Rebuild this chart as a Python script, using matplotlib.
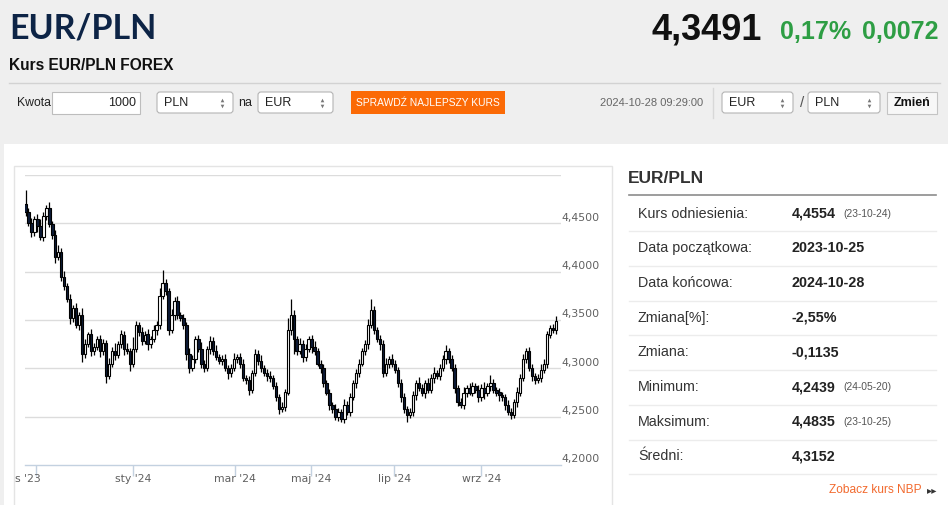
import numpy as np
import matplotlib
matplotlib.use("Agg")
import matplotlib.pyplot as plt
from matplotlib.patches import Rectangle, FancyBboxPatch
from matplotlib.transforms import Bbox

SANS = ['Liberation Sans', 'DejaVu Sans']
plt.rcParams['font.family'] = SANS

# ---- data ----
first_open = 4.470
closes = [
    4.462, 4.450, 4.441, 4.455, 4.447, 4.436, 4.458, 4.466, 4.449, 4.438,
    4.415, 4.420, 4.395, 4.385, 4.372, 4.352, 4.362, 4.345, 4.355, 4.315,
    4.325, 4.335, 4.318, 4.322, 4.330, 4.318, 4.326, 4.292, 4.305, 4.318,
    4.314, 4.325, 4.335, 4.320, 4.318, 4.305, 4.320, 4.345, 4.338, 4.328,
    4.335, 4.325, 4.330, 4.340, 4.345, 4.375, 4.388, 4.380, 4.340, 4.355,
    4.370, 4.355, 4.352, 4.345, 4.315, 4.300, 4.310, 4.330, 4.320, 4.305,
    4.300, 4.320, 4.328, 4.318, 4.312, 4.308, 4.310, 4.300, 4.295, 4.300,
    4.310, 4.312, 4.305, 4.290, 4.288, 4.278, 4.295, 4.315, 4.308, 4.300,
    4.295, 4.292, 4.290, 4.282, 4.270, 4.258, 4.260, 4.275, 4.340, 4.355,
    4.330, 4.318, 4.325, 4.312, 4.320, 4.330, 4.322, 4.318, 4.305, 4.300,
    4.285, 4.275, 4.262, 4.258, 4.250, 4.255, 4.248, 4.262, 4.255, 4.270,
    4.285, 4.295, 4.305, 4.318, 4.325, 4.345, 4.360, 4.340, 4.330, 4.325,
    4.295, 4.305, 4.310, 4.305, 4.298, 4.285, 4.270, 4.258, 4.252, 4.255,
    4.272, 4.285, 4.280, 4.275, 4.285, 4.278, 4.290, 4.295, 4.292, 4.300,
    4.310, 4.318, 4.310, 4.300, 4.280, 4.265, 4.262, 4.275, 4.280, 4.275,
    4.282, 4.278, 4.270, 4.280, 4.275, 4.282, 4.285, 4.278, 4.275, 4.272,
    4.270, 4.262, 4.255, 4.252, 4.265, 4.275, 4.290, 4.310, 4.318, 4.300,
    4.292, 4.288, 4.290, 4.298, 4.305, 4.335, 4.342, 4.340, 4.349,
]
# wick lengths above / below the body, in thousandths
wick_up = [
    14, 4, 6, 3, 5, 8, 4, 3, 6, 3, 5, 8, 4, 6, 3, 5, 4, 6, 3, 7,
    5, 3, 6, 4, 3, 5, 4, 3, 6, 4, 8, 3, 5, 4, 6, 3, 12, 4, 3, 5,
    4, 6, 3, 5, 4, 8, 14, 4, 3, 6, 4, 5, 3, 4, 3, 6, 4, 3, 5, 7,
    4, 3, 5, 4, 6, 3, 4, 5, 3, 4, 6, 3, 4, 5, 3, 4, 3, 5, 4, 6,
    3, 4, 5, 3, 4, 3, 5, 4, 12, 17, 5, 3, 6, 4, 5, 3, 4, 6, 3, 4,
    5, 3, 4, 3, 5, 4, 3, 6, 4, 5, 3, 4, 5, 3, 4, 6, 12, 4, 3, 5,
    4, 6, 3, 5, 4, 3, 4, 5, 3, 4, 5, 3, 6, 4, 3, 5, 4, 6, 3, 5,
    4, 6, 3, 4, 5, 3, 4, 6, 3, 5, 4, 3, 5, 4, 6, 3, 8, 4, 3, 5,
    4, 3, 5, 4, 3, 6, 4, 5, 3, 4, 5, 3, 4, 6, 5, 4, 3, 4, 5,
]
wick_dn = [
    4, 3, 5, 4, 6, 3, 4, 5, 3, 4, 6, 3, 5, 4, 3, 6, 4, 3, 5, 8,
    4, 3, 5, 4, 3, 6, 4, 7, 3, 4, 5, 3, 4, 6, 3, 8, 4, 3, 5, 4,
    3, 6, 4, 3, 5, 4, 3, 4, 6, 3, 5, 4, 3, 4, 6, 5, 3, 4, 3, 5,
    4, 3, 5, 4, 3, 4, 5, 3, 6, 4, 3, 4, 5, 3, 4, 6, 4, 3, 5, 4,
    3, 5, 4, 3, 4, 5, 3, 4, 3, 6, 15, 4, 3, 5, 4, 3, 6, 4, 3, 5,
    4, 3, 5, 4, 3, 4, 4, 5, 3, 4, 3, 5, 4, 3, 4, 5, 3, 4, 3, 6,
    4, 3, 5, 4, 3, 4, 5, 4, 7, 3, 4, 5, 3, 4, 6, 3, 4, 5, 3, 4,
    3, 5, 4, 3, 5, 4, 3, 4, 5, 3, 4, 3, 5, 4, 7, 4, 5, 3, 4, 6,
    4, 5, 3, 4, 3, 5, 4, 3, 4, 3, 5, 4, 3, 4, 3, 5, 4, 3, 4,
]
month_labels = ["lis '23", "sty '24", "mar '24", "maj '24", "lip '24", "wrz '24"]
month_ticks = [3.5, 36.2, 70.3, 95.8, 123.7, 152.9]
y_ticks = [4.20, 4.25, 4.30, 4.35, 4.40, 4.45]
y_labels = ["4,2000", "4,2500", "4,3000", "4,3500", "4,4000", "4,4500"]

info_labels = ["Kurs odniesienia:", "Data początkowa:", "Data końcowa:", "Zmiana[%]:",
               "Zmiana:", "Minimum:", "Maksimum:", "Średni:"]
info_values = ["4,4554", "2023-10-25", "2024-10-28", "-2,55%", "-0,1135",
               "4,2439", "4,4835", "4,3152"]
info_dates = ["(23-10-24)", "", "", "", "", "(24-05-20)", "(23-10-25)", ""]

# ---- figure ----
fig = plt.figure(figsize=(9.48, 5.05), dpi=100)
fig.patch.set_facecolor('white')
bg = fig.add_axes([0, 0, 1, 1], zorder=0)
bg.set_xlim(0, 948)
bg.set_ylim(505, 0)
bg.axis('off')

# header
bg.add_patch(Rectangle((0, 0), 948, 144, color='#efefef', lw=0))
bg.add_patch(Rectangle((0, 144), 4, 361, color='#efefef', lw=0))
bg.text(9, 28.5, "EUR/PLN", family=['Lato', 'Liberation Sans'], fontsize=24.5, weight='bold',
        color='#0d2446', va='center')
bg.text(652, 30, "4,3491", fontsize=26, weight='bold', color='#111111', va='center')
bg.text(780, 32, "0,17%", fontsize=18, weight='bold', color='#2e9e44', va='center')
bg.text(862, 32, "0,0072", fontsize=18, weight='bold', color='#2e9e44', va='center')
bg.text(9, 66, "Kurs EUR/PLN FOREX", fontsize=11.2, weight='bold', color='#111111', va='center')
bg.plot([9, 940], [83, 83], color='#d2d2d2', lw=1)

# controls row
def select_box(x, w, txt):
    bg.add_patch(FancyBboxPatch((x, 92), w, 21, boxstyle="round,pad=0,rounding_size=3",
                                fc='white', ec='#b4b4b4', lw=0.8))
    bg.text(x + 7, 102.5, txt, fontsize=9, color='#222222', va='center')
    bg.plot([x + w - 11], [99.5], marker='^', ms=2.6, color='#777777', mec='none')
    bg.plot([x + w - 11], [105.5], marker='v', ms=2.6, color='#777777', mec='none')

bg.text(17, 103, "Kwota", fontsize=8.8, color='#222222', va='center')
bg.add_patch(Rectangle((52, 92), 88, 22, fc='white', ec='#bdbdbd', lw=0.8))
bg.text(136, 103, "1000", fontsize=9, color='#222222', va='center', ha='right')
select_box(157, 76, "PLN")
bg.text(238, 103, "na", fontsize=9, color='#222222', va='center')
select_box(258, 75, "EUR")
bg.add_patch(Rectangle((351, 91), 154, 23, fc='#fb6a06', lw=0))
bg.text(428, 102.5, "SPRAWDŹ NAJLEPSZY KURS", fontsize=7.4, color='white',
        va='center', ha='center')
bg.text(600, 103, "2024-10-28 09:29:00", fontsize=8.0, color='#666666', va='center')
bg.plot([713, 713], [88, 118], color='#d8d8d8', lw=1)
select_box(722, 71, "EUR")
bg.text(800, 103, "/", fontsize=11, color='#555555', va='center')
select_box(808, 72, "PLN")
bg.add_patch(Rectangle((887, 92), 50, 22, fc='#f7f7f7', ec='#c4c4c4', lw=0.8))
bg.text(912, 103, "Zmień", fontsize=9, weight='bold', color='#111111',
        va='center', ha='center')

# chart frame
bg.add_patch(Rectangle((14, 166), 598, 345, fc='white', ec='#e4e4e4', lw=1))

# right info panel
bg.text(628, 178.5, "EUR/PLN", fontsize=12.5, weight='bold', color='#333333', va='center')
bg.plot([629, 936], [195, 195], color='#8c8c8c', lw=1.2)
for k, (lab, val, dt) in enumerate(zip(info_labels, info_values, info_dates)):
    yc = 213.5 + k * 34.7
    bg.text(638, yc, lab, fontsize=10.3, color='#333333', va='center')
    bg.text(792, yc, val, fontsize=10.3, weight='bold', color='#222222', va='center')
    if dt:
        bg.text(843, yc + 0.5, dt, fontsize=7.4, color='#555555', va='center')
    bg.plot([629, 936], [yc + 17.8, yc + 17.8], color='#ececec', lw=1)
bg.text(922, 490, "Zobacz kurs NBP", fontsize=8.6, color='#f26a2e', va='center', ha='right')
bg.text(937, 490.5, "▸▸", family=['DejaVu Sans'], fontsize=7.5, color='#333333', va='center', ha='right')

# ---- candlestick chart ----
ax = fig.add_axes([25 / 948, (505 - 465) / 505, 536 / 948, 290 / 505], zorder=1)
ax.set_facecolor('none')
c = np.array(closes)
o = np.concatenate([[first_open], c[:-1]])
hi = np.maximum(o, c) + np.array(wick_up) / 1000
lo = np.minimum(o, c) - np.array(wick_dn) / 1000
x = np.arange(len(c))
up = c >= o
body_bottom = np.minimum(o, c)
body_h = np.maximum(np.abs(c - o), 0.0008)

ax.vlines(x, lo, hi, color='#000000', lw=0.9, zorder=3)
ax.bar(x, body_h, width=0.8, bottom=body_bottom,
       color=np.where(up, '#ffffff', '#0c1a36'), edgecolor='#000000', linewidth=0.8, zorder=4)

ax.set_xlim(-0.17, 179.7)
ax.set_ylim(4.20, 4.50)
for v in [4.25, 4.30, 4.35, 4.40, 4.45, 4.50]:
    ax.axhline(v, color='#dcdcdc', lw=1, zorder=1)
for s in ['top', 'right', 'left']:
    ax.spines[s].set_visible(False)
ax.spines['bottom'].set_color('#c3d1e0')
ax.spines['bottom'].set_linewidth(1)
ax.set_yticks([])
ax.set_xticks(month_ticks)
ax.set_xticklabels([])
ax.tick_params(axis='x', direction='out', length=8, width=1, color='#c3d1e0')

for v, lab in zip(y_ticks, y_labels):
    ax.annotate(lab, xy=(1, v), xycoords=('axes fraction', 'data'), xytext=(0.5, 4.0),
                textcoords='offset points', va='center', ha='left', fontsize=7.8,
                family=['DejaVu Sans'], color='#606060', annotation_clip=False)

label_x = [-0.34] + month_ticks[1:]
for k, (px, lab) in enumerate(zip(label_x, month_labels)):
    t = ax.text(px, -0.05, lab, transform=ax.get_xaxis_transform(), ha='center', va='center',
                fontsize=7.8, family=['DejaVu Sans'], color='#606060', clip_on=False)
    if k == 0:
        t.set_clip_box(Bbox([[15, 0], [948, 505]]))
        t.set_clip_on(True)

fig.savefig("out.png", dpi=100)
